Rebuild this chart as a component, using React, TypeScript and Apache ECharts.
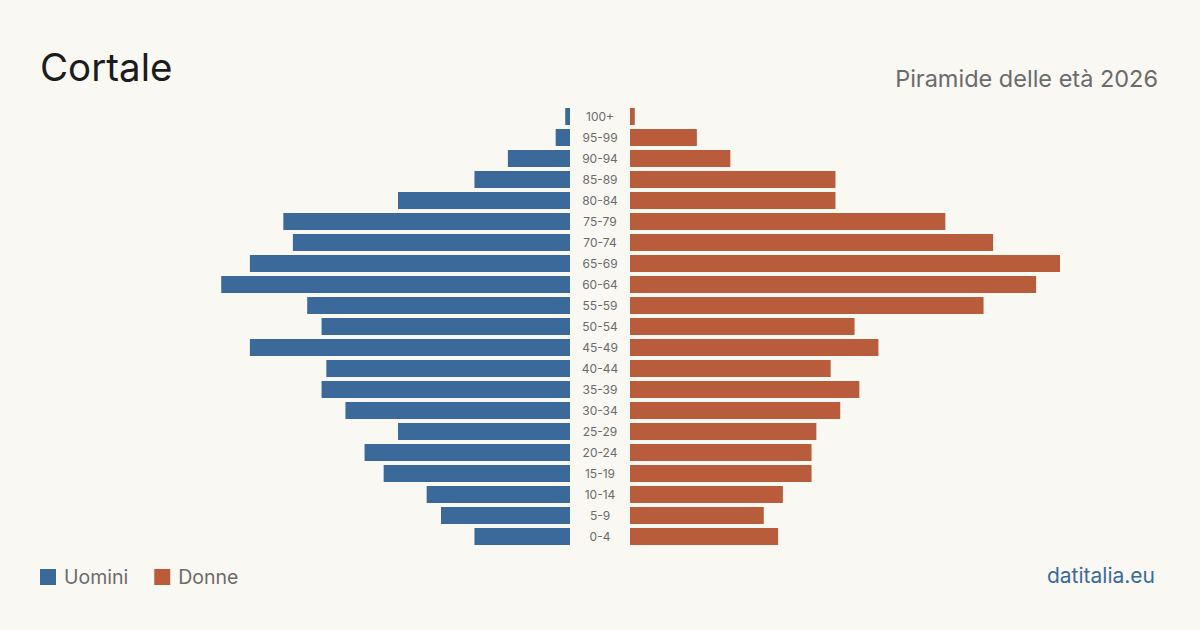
import React, { useEffect, useRef } from "react";
import * as echarts from "echarts";

// Age classes, oldest first (top of the pyramid)
const ageGroups = [
  "100+", "95-99", "90-94", "85-89", "80-84", "75-79", "70-74", "65-69", "60-64", "55-59",
  "50-54", "45-49", "40-44", "35-39", "30-34", "25-29", "20-24", "15-19", "10-14", "5-9", "0-4",
];
const men = [1, 3, 13, 20, 36, 60, 58, 67, 73, 55, 52, 67, 51, 52, 47, 36, 43, 39, 30, 27, 20];
const women = [1, 14, 21, 43, 43, 66, 76, 90, 85, 74, 47, 52, 42, 48, 44, 39, 38, 38, 32, 28, 31];

const BLUE = "#3b6a9a";
const ORANGE = "#b95c3c";
const BG = "#f9f8f3";
const FONT = "Inter, 'Noto Sans', sans-serif";

export default function App() {
  const ref = useRef<HTMLDivElement>(null);

  useEffect(() => {
    if (!ref.current) return;
    const chart = echarts.init(ref.current, undefined, { renderer: "svg" });
    const maxVal = Math.max(...men, ...women);

    chart.setOption({
      animation: false,
      backgroundColor: BG,
      textStyle: { fontFamily: FONT },
      title: [
        {
          text: "Cortale",
          left: 35,
          top: 42,
          textStyle: { fontSize: 38.5, fontWeight: 400, color: "#1c1c1c", fontFamily: FONT },
        },
        {
          text: "Piramide delle età 2026",
          right: 37,
          top: 61,
          textStyle: { fontSize: 23.5, fontWeight: 400, color: "#6b6b6b", fontFamily: FONT },
        },
        {
          text: "datitalia.eu",
          right: 40,
          top: 560,
          textStyle: { fontSize: 21, fontWeight: 400, color: BLUE, fontFamily: FONT },
        },
      ],
      legend: {
        left: 35,
        top: 562,
        icon: "rect",
        itemWidth: 16,
        itemHeight: 16,
        itemGap: 26,
        textStyle: { fontSize: 19.5, color: "#6b6b6b", fontFamily: FONT, padding: [0, 0, 0, 3] },
        data: ["Uomini", "Donne"],
      },
      grid: [
        { left: 140, width: 430, top: 106, height: 441 },
        { left: 630, width: 430, top: 106, height: 441 },
      ],
      xAxis: [
        {
          type: "value",
          gridIndex: 0,
          min: 0,
          max: maxVal,
          inverse: true,
          show: false,
        },
        {
          type: "value",
          gridIndex: 1,
          min: 0,
          max: maxVal,
          show: false,
        },
      ],
      yAxis: [
        {
          type: "category",
          gridIndex: 0,
          data: ageGroups,
          inverse: true,
          position: "right",
          axisLine: { show: false },
          axisTick: { show: false },
          axisLabel: {
            align: "center",
            margin: 30,
            fontSize: 12,
            color: "#6b6b6b",
            fontFamily: FONT,
          },
        },
        {
          type: "category",
          gridIndex: 1,
          data: ageGroups,
          inverse: true,
          show: false,
        },
      ],
      series: [
        {
          name: "Uomini",
          type: "bar",
          xAxisIndex: 0,
          yAxisIndex: 0,
          data: men,
          barWidth: 17,
          itemStyle: { color: BLUE },
        },
        {
          name: "Donne",
          type: "bar",
          xAxisIndex: 1,
          yAxisIndex: 1,
          data: women,
          barWidth: 17,
          itemStyle: { color: ORANGE },
        },
      ],
    });

    return () => chart.dispose();
  }, []);

  return (
    <div
      ref={ref}
      style={{ position: "fixed", left: 0, top: 0, width: 1200, height: 630, background: BG }}
    />
  );
}
